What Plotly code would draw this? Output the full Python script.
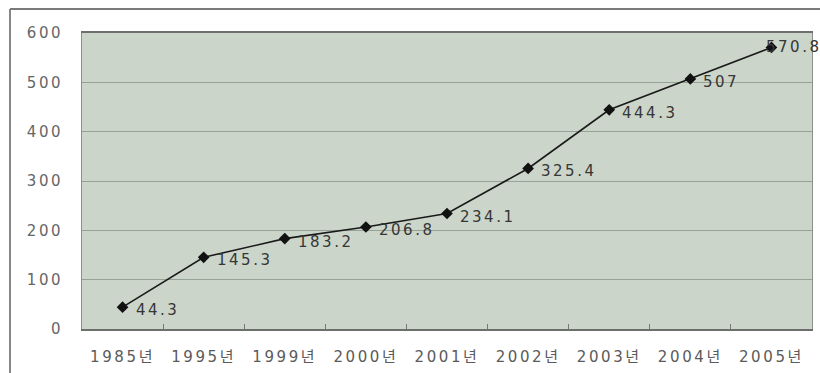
import plotly.graph_objects as go

years = ["1985년", "1995년", "1999년", "2000년", "2001년", "2002년", "2003년", "2004년", "2005년"]
values = [44.3, 145.3, 183.2, 206.8, 234.1, 325.4, 444.3, 507, 570.8]
y_ticks = [0, 100, 200, 300, 400, 500, 600]

FONT = "DejaVu Sans, Noto Sans CJK KR, sans-serif"


def tracked(s, px=3):
    """Wrap a label so it is drawn with extra letter spacing."""
    return f'<span style="letter-spacing:{px}px">{s}</span>'


fig = go.Figure()
fig.add_trace(go.Scatter(
    x=years, y=values, mode="lines+markers",
    line=dict(color="#1a1a1a", width=1.6),
    marker=dict(symbol="diamond", size=9, color="#111111"),
    cliponaxis=False, hoverinfo="skip", showlegend=False,
))

# value labels to the right of each point
for i, (yr, v) in enumerate(zip(years, values)):
    last = i == len(values) - 1
    fig.add_annotation(
        x=yr, y=v, text=tracked(f"{v:g}", 2.5), showarrow=False,
        xanchor="left", yanchor="middle",
        xshift=-7 if last else 11, yshift=0 if last else -3,
        font=dict(family=FONT, size=15, color="#363636"),
    )

fig.update_layout(
    width=820, height=373,
    margin=dict(l=82, r=8, t=33, b=44),
    paper_bgcolor="white",
    plot_bgcolor="#cbd5ca",
    font=dict(family=FONT, size=15, color="#5a5a5a"),
    xaxis=dict(
        type="category", tickvals=years, ticktext=[tracked(y, 2.6) for y in years],
        tickson="boundaries", ticks="inside", ticklen=5, tickcolor="#777777",
        ticklabelstandoff=13,
        showgrid=False, showline=True, linecolor="#6e6e6e", linewidth=1.5,
        mirror=True, tickfont=dict(family=FONT, size=15, color="#5a5a5a"),
        range=[-0.5, len(years) - 0.5],
    ),
    yaxis=dict(
        range=[0, 600], tickvals=y_ticks,
        ticktext=[tracked(str(t), 2.5) for t in y_ticks],
        ticks="", ticklabelstandoff=15,
        showgrid=True, gridcolor="#97a297", gridwidth=1,
        showline=True, linecolor="#8a8f8a", linewidth=1, mirror=True,
        zeroline=False, tickfont=dict(family=FONT, size=15, color="#666666"),
    ),
    shapes=[
        # outer frame (left and top edges)
        dict(type="line", xref="paper", yref="paper",
             x0=-72/730, x1=-72/730, y0=-44/296 - 0.1, y1=1 + 24/296,
             line=dict(color="#7a7a7a", width=1.8)),
        dict(type="line", xref="paper", yref="paper",
             x0=-72/730, x1=1 + 8/730 + 0.05, y0=1 + 24/296, y1=1 + 24/296,
             line=dict(color="#7a7a7a", width=1.8)),
    ],
)

fig.write_html("out.html")
